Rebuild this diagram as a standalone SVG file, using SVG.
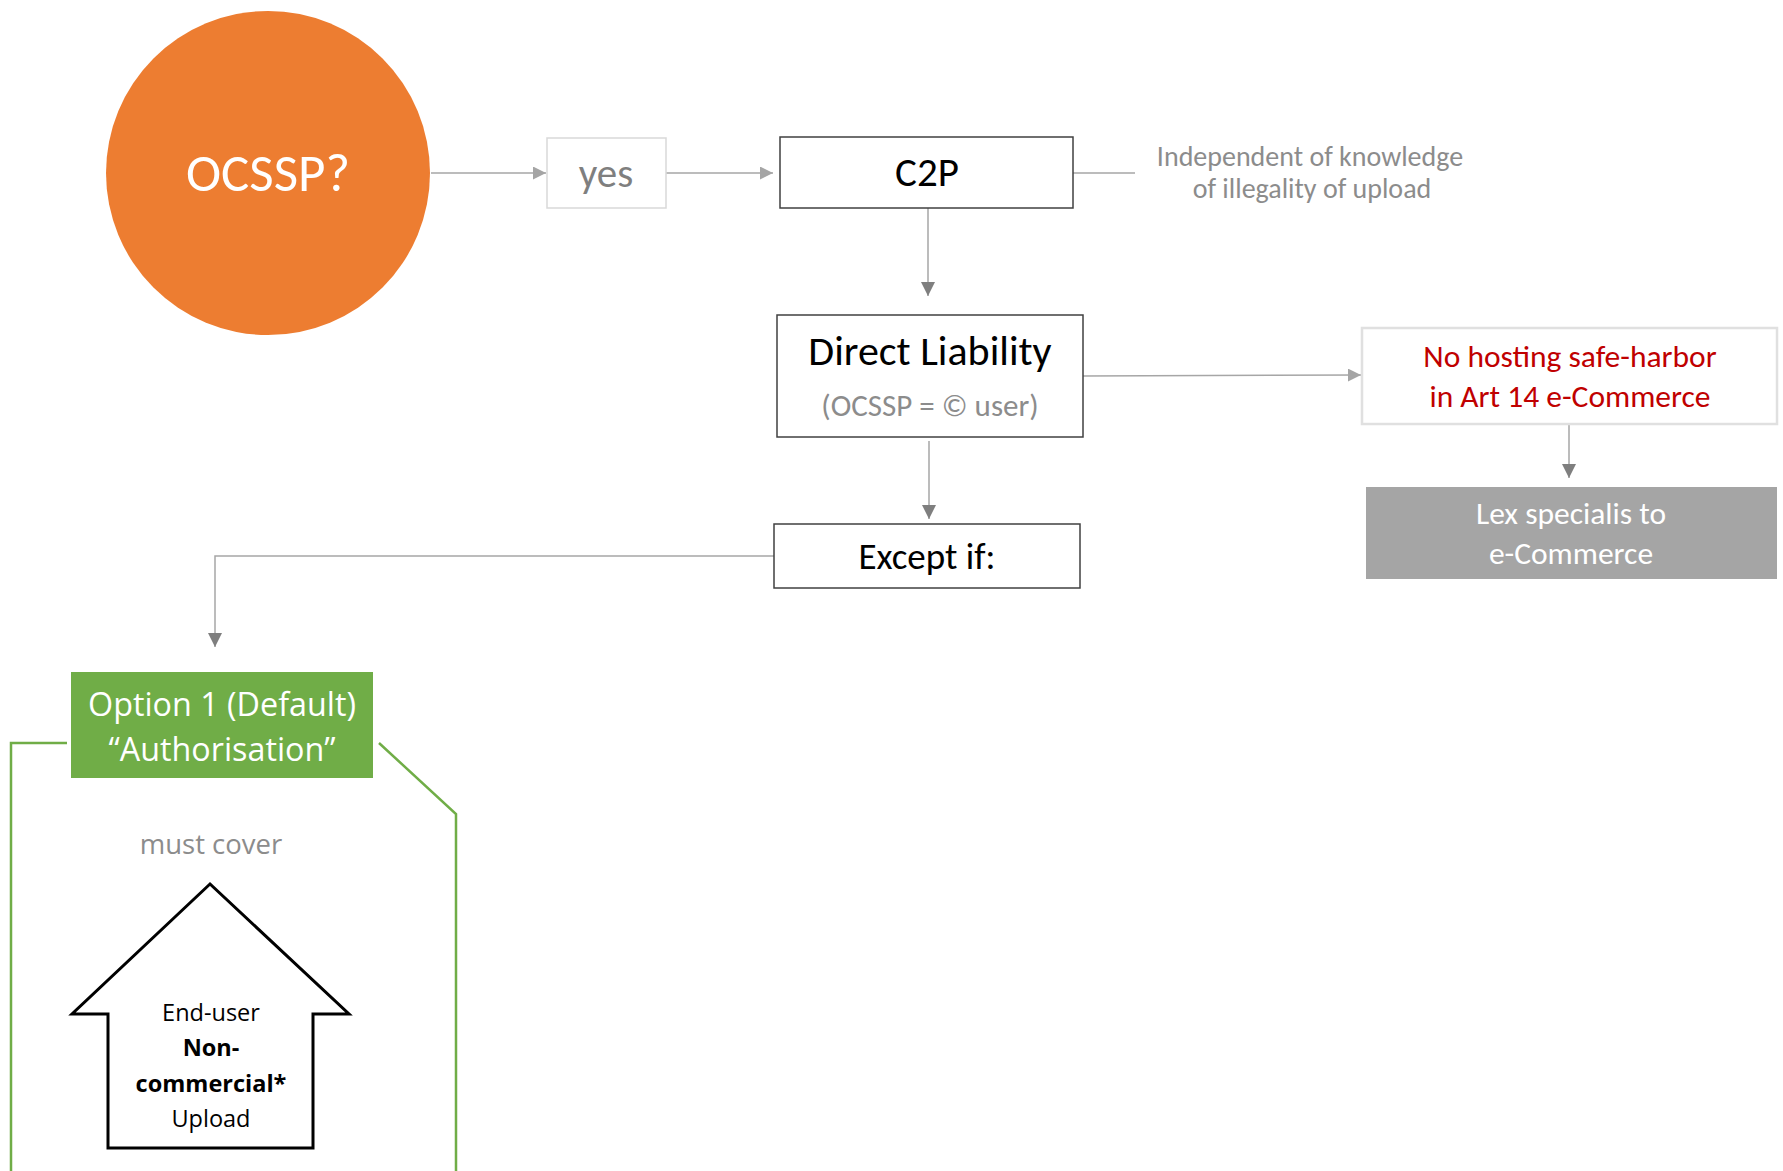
<svg xmlns="http://www.w3.org/2000/svg" width="1783" height="1171" viewBox="0 0 1783 1171">
  <defs>
    <style>
      .cal { font-family: Carlito, "Liberation Sans Narrow", "Noto Sans", sans-serif; }
      .seg { font-family: "Open Sans", "Noto Sans", sans-serif; }
      .box { fill: #ffffff; stroke: #404040; stroke-width: 1.5; }
      .light { fill: #ffffff; stroke: #d9d9d9; stroke-width: 1.5; }
      .conn { fill: none; stroke: #a6a6a6; stroke-width: 1.5; }
      .conn2 { fill: none; stroke: #a6a6a6; stroke-width: 1.5; }
    </style>
    <marker id="arrL" viewBox="0 0 10 10" refX="10" refY="5" markerWidth="13" markerHeight="13" markerUnits="userSpaceOnUse" orient="auto">
      <path d="M0,0 L10,5 L0,10 z" fill="#a5a5a5"/>
    </marker>
    <marker id="arrD" viewBox="0 0 10 10" refX="10" refY="5" markerWidth="14" markerHeight="14" markerUnits="userSpaceOnUse" orient="auto">
      <path d="M0,0 L10,5 L0,10 z" fill="#7f7f7f"/>
    </marker>
  </defs>
  <rect width="1783" height="1171" fill="#ffffff"/>

  <!-- connectors -->
  <g id="connectors">
    <line class="conn" x1="431" y1="173" x2="546" y2="173" marker-end="url(#arrL)"/>
    <line class="conn" x1="666" y1="173" x2="773" y2="173" marker-end="url(#arrL)"/>
    <line class="conn" x1="1073" y1="173" x2="1135" y2="173"/>
    <line class="conn2" x1="928" y1="208" x2="928" y2="296" marker-end="url(#arrD)"/>
    <line class="conn" x1="1083" y1="376" x2="1361" y2="375" marker-end="url(#arrL)"/>
    <line class="conn2" x1="1569" y1="424" x2="1569" y2="478" marker-end="url(#arrD)"/>
    <line class="conn2" x1="929" y1="441" x2="929" y2="519" marker-end="url(#arrD)"/>
    <polyline class="conn2" points="774,556 215,556 215,647" marker-end="url(#arrD)"/>
  </g>

  <!-- question -->
  <g id="ocssp">
    <circle cx="268" cy="173" r="162" fill="#ed7d31"/>
    <text class="cal" x="268" y="173" font-size="53" font-weight="300" fill="#ffffff" text-anchor="middle" dominant-baseline="central">OCSSP?</text>
  </g>

  <g id="yes">
    <rect class="light" x="547" y="138" width="119" height="70"/>
    <text class="cal" x="606" y="173" font-size="41" font-weight="300" fill="#7f7f7f" text-anchor="middle" dominant-baseline="central">yes</text>
  </g>

  <g id="c2p">
    <rect class="box" x="780" y="137" width="293" height="71"/>
    <text class="cal" x="927" y="172" font-size="41" font-weight="300" fill="#000000" text-anchor="middle" dominant-baseline="central">C2P</text>
  </g>

  <g id="note">
    <text class="cal" x="1310" y="156" font-size="28" font-weight="300" fill="#8c8c8c" text-anchor="middle" dominant-baseline="central">Independent of knowledge</text>
    <text class="cal" x="1312" y="188" font-size="28" font-weight="300" fill="#8c8c8c" text-anchor="middle" dominant-baseline="central">of illegality of upload</text>
  </g>

  <g id="direct-liability">
    <rect class="box" x="777" y="315" width="306" height="122"/>
    <text class="cal" x="930" y="350" font-size="42" font-weight="300" fill="#000000" text-anchor="middle" dominant-baseline="central">Direct Liability</text>
    <text class="cal" x="930" y="405" font-size="31" font-weight="300" fill="#8c8c8c" text-anchor="middle" dominant-baseline="central">(OCSSP = © user)</text>
  </g>

  <g id="no-safe-harbor">
    <rect x="1362" y="328" width="415" height="96" fill="#ffffff" stroke="#e0e0e0" stroke-width="2.5"/>
    <text class="cal" x="1570" y="356" font-size="31.5" font-weight="300" fill="#c00000" text-anchor="middle" dominant-baseline="central">No hosting safe-harbor</text>
    <text class="cal" x="1570" y="396" font-size="31.5" font-weight="300" fill="#c00000" text-anchor="middle" dominant-baseline="central">in Art 14 e-Commerce</text>
  </g>

  <g id="lex-specialis">
    <rect x="1366" y="487" width="411" height="92" fill="#a5a5a5"/>
    <text class="cal" x="1571" y="513" font-size="31.5" font-weight="300" fill="#ffffff" text-anchor="middle" dominant-baseline="central">Lex specialis to</text>
    <text class="cal" x="1571" y="553" font-size="31.5" font-weight="300" fill="#ffffff" text-anchor="middle" dominant-baseline="central">e-Commerce</text>
  </g>

  <g id="except-if">
    <rect class="box" x="774" y="524" width="306" height="64"/>
    <text class="cal" x="927" y="556" font-size="37" font-weight="300" fill="#000000" text-anchor="middle" dominant-baseline="central">Except if:</text>
  </g>

  <g id="option-1">
    <polyline points="67,743 11,743 11,1171" fill="none" stroke="#70ad47" stroke-width="2.5"/>
    <polyline points="379,743 456,814 456,1171" fill="none" stroke="#70ad47" stroke-width="2.5"/>
    <rect x="71" y="672" width="302" height="106" fill="#70ad47"/>
    <text class="seg" x="222" y="703" font-size="32.3" fill="#ffffff" text-anchor="middle" dominant-baseline="central">Option 1 (Default)</text>
    <text class="seg" x="222" y="748" font-size="32.3" fill="#ffffff" text-anchor="middle" dominant-baseline="central">“Authorisation”</text>
    <text class="seg" x="211" y="843" font-size="27.5" fill="#8c8c8c" text-anchor="middle" dominant-baseline="central">must cover</text>
  </g>

  <g id="upload">
    <polygon points="210,884 72,1014 108,1014 108,1148 313,1148 313,1014 349,1014" fill="#ffffff" stroke="#000000" stroke-width="3"/>
    <text class="seg" x="211" y="1012" font-size="23.5" fill="#000000" text-anchor="middle" dominant-baseline="central">End-user</text>
    <text class="seg" x="211" y="1047" font-size="23.5" font-weight="bold" fill="#000000" text-anchor="middle" dominant-baseline="central">Non-</text>
    <text class="seg" x="211" y="1083" font-size="23.5" font-weight="bold" fill="#000000" text-anchor="middle" dominant-baseline="central">commercial*</text>
    <text class="seg" x="211" y="1118" font-size="23.5" fill="#000000" text-anchor="middle" dominant-baseline="central">Upload</text>
  </g>
</svg>
